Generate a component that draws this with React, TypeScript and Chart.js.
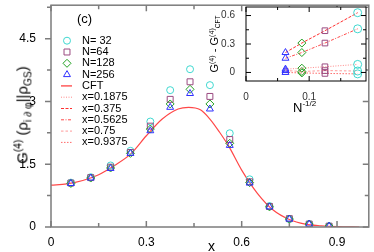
import React, { useEffect, useRef } from 'react';
import { Chart, registerables } from 'chart.js';
import { drawPoint } from 'chart.js/helpers';

Chart.register(...registerables);

const FONT = "'Liberation Sans', Arial, sans-serif";

// ---------- main plot data ----------
const xSites = [0.0625, 0.125, 0.1875, 0.25, 0.3125, 0.375, 0.4375, 0.5, 0.5625, 0.625, 0.6875, 0.75, 0.8125, 0.875];
const gN32 = [1.06, 1.19, 1.47, 1.82, 2.52, 3.27, 3.77, 3.39, 2.24, 1.14, 0.5, 0.19, 0.07, 0.02];
const gN64 = [1.05, 1.18, 1.43, 1.78, 2.41, 3.05, 3.47, 3.12, 2.09, 1.08, 0.49, 0.2, 0.07, 0.02];
const gN128 = [1.04, 1.17, 1.41, 1.76, 2.34, 2.94, 3.29, 2.94, 2.0, 1.06, 0.48, 0.19, 0.07, 0.02];
const gN256 = [1.04, 1.17, 1.4, 1.76, 2.3, 2.86, 3.19, 2.82, 1.95, 1.05, 0.48, 0.19, 0.07, 0.02];
const cftX = [0, 0.05, 0.1, 0.15, 0.2, 0.25, 0.3, 0.35, 0.4, 0.433, 0.47, 0.5, 0.53, 0.56, 0.6, 0.65, 0.7, 0.75, 0.8, 0.85, 0.9, 0.97];
const cftY = [1.0, 1.03, 1.11, 1.25, 1.47, 1.74, 2.18, 2.58, 2.82, 2.86, 2.8, 2.58, 2.27, 1.92, 1.36, 0.8, 0.4, 0.18, 0.07, 0.03, 0.01, 0.0];

const xTicks = [0, 0.3, 0.6, 0.9];
const xMinor = [0.15, 0.45, 0.75];
const yTicks = [0, 1.5, 3, 4.5];
const yMinor = [0.75, 2.25, 3.75, 5.25];

// ---------- inset data ----------
const invSqrtN = [0.0625, 0.0884, 0.125, 0.1768];
const dX0375 = [0.21, 0.31, 0.44, 0.63];
const dX05625 = [0.15, 0.21, 0.31, 0.46];
const dX01875 = [0.035, 0.045, 0.06, 0.085];
const dX075 = [0.02, 0.01, 0.02, 0.015];
const dX09375 = [0.0, -0.005, -0.01, -0.015];
const insetXTicks = [0, 0.1];
const insetXMinor = [0.05, 0.15];
const insetYTicks = [0, 0.3, 0.6];
const insetYMinor = [0.15, 0.45];

const cyan = '#3fd8d0';
const purple = '#9a4a80';
const green = '#22a022';
const blue = '#3030ff';

const markerLegend = [
  { label: 'N= 32', style: 'circle', color: cyan, r: 3.5 },
  { label: 'N=64', style: 'rect', color: purple, r: 4.2 },
  { label: 'N=128', style: 'rectRot', color: green, r: 4 },
  { label: 'N=256', style: 'triangle', color: blue, r: 4 },
];
const lineLegend = [
  { label: 'CFT', color: '#ff5050', dash: [] as number[], w: 1.4 },
  { label: 'x=0.1875', color: '#ff8a8a', dash: [1, 1.5], w: 1 },
  { label: 'x=0.375', color: '#ff3030', dash: [3, 1.5], w: 1 },
  { label: 'x=0.5625', color: '#ff4a4a', dash: [3, 1.5, 1, 1.5], w: 1 },
  { label: 'x=0.75', color: '#ff9a9a', dash: [2.5, 2], w: 1 },
  { label: 'x=0.9375', color: '#ff6a6a', dash: [1.5, 1.5], w: 1 },
];

const pts = (xs: number[], ys: number[]) => xs.map((x, i) => ({ x, y: ys[i] }));

const zeroPad = (s: any) => {
  s.paddingTop = 0; s.paddingBottom = 0; s.paddingLeft = 0; s.paddingRight = 0;
};

const mainFrame = {
  id: 'mainFrame',
  afterDatasetsDraw(chart: any) {
    const { ctx, chartArea: a, scales } = chart;
    const sx = scales.x, sy = scales.y;
    ctx.save();
    ctx.strokeStyle = '#7c7c7c';
    ctx.lineWidth = 1.5;
    ctx.setLineDash([]);
    ctx.strokeRect(a.left, a.top, a.right - a.left, a.bottom - a.top);
    ctx.beginPath();
    const xt = (vals: number[], len: number) => vals.forEach((v) => {
      const p = sx.getPixelForValue(v);
      ctx.moveTo(p, a.bottom); ctx.lineTo(p, a.bottom - len);
      ctx.moveTo(p, a.top); ctx.lineTo(p, a.top + len);
    });
    const yt = (vals: number[], len: number) => vals.forEach((v) => {
      const p = sy.getPixelForValue(v);
      ctx.moveTo(a.left - len, p); ctx.lineTo(a.left, p);
      ctx.moveTo(a.right, p); ctx.lineTo(a.right - len, p);
    });
    xt(xTicks, 6); xt(xMinor, 4); yt(yTicks, 6); yt(yMinor, 4);
    ctx.stroke();

    // legend
    const rowY = (i: number) => 40.7 + 11.3 * i;
    ctx.fillStyle = '#000';
    ctx.font = `13px ${FONT}`;
    ctx.textBaseline = 'middle';
    ctx.textAlign = 'left';
    ctx.fillText('(c)', 77, 19);
    ctx.font = `11px ${FONT}`;
    markerLegend.forEach((m, i) => {
      ctx.save();
      ctx.strokeStyle = m.color;
      ctx.fillStyle = 'rgba(0,0,0,0)';
      ctx.lineWidth = 1;
      drawPoint(ctx, { pointStyle: m.style, radius: m.r, borderWidth: 1, rotation: 0 } as any, 67, rowY(i));
      ctx.restore();
      ctx.fillText(m.label, 82, rowY(i));
    });
    lineLegend.forEach((l, j) => {
      const y = rowY(j + 4);
      ctx.save();
      ctx.strokeStyle = l.color;
      ctx.lineWidth = l.w;
      ctx.setLineDash(l.dash);
      ctx.beginPath();
      ctx.moveTo(61, y); ctx.lineTo(72, y);
      ctx.stroke();
      ctx.restore();
      ctx.fillStyle = '#000';
      ctx.fillText(l.label, 82, y);
    });
    ctx.restore();
  },
};

const insetFrame = {
  id: 'insetFrame',
  beforeDraw(chart: any) {
    const { ctx, chartArea: a } = chart;
    ctx.save();
    ctx.fillStyle = '#fff';
    ctx.fillRect(a.left, a.top, a.right - a.left, a.bottom - a.top);
    ctx.restore();
  },
  afterDraw(chart: any) {
    const { ctx, chartArea: a, scales } = chart;
    const sx = scales.x, sy = scales.y;
    ctx.save();
    ctx.strokeStyle = '#000';
    ctx.lineWidth = 1;
    ctx.setLineDash([]);
    ctx.strokeRect(a.left, a.top, a.right - a.left, a.bottom - a.top);
    ctx.beginPath();
    const xt = (vals: number[], len: number) => vals.forEach((v) => {
      const p = sx.getPixelForValue(v);
      ctx.moveTo(p, a.bottom); ctx.lineTo(p, a.bottom - len);
      ctx.moveTo(p, a.top); ctx.lineTo(p, a.top + len);
    });
    const yt = (vals: number[], len: number) => vals.forEach((v) => {
      const p = sy.getPixelForValue(v);
      ctx.moveTo(a.left, p); ctx.lineTo(a.left + len, p);
      ctx.moveTo(a.right, p); ctx.lineTo(a.right - len, p);
    });
    xt(insetXTicks, 5); xt(insetXMinor, 3); yt(insetYTicks, 5); yt(insetYMinor, 3);
    ctx.stroke();
    ctx.restore();
  },
};

const insetPointStyles = ['triangle', 'rectRot', 'rect', 'circle'];
const insetPointColors = [blue, green, purple, cyan];
const insetLine = (ys: number[], color: string, dash: number[]) => ({
  data: pts(invSqrtN, ys),
  showLine: true,
  borderColor: color,
  borderWidth: 1,
  borderDash: dash,
  pointStyle: insetPointStyles,
  pointBorderColor: insetPointColors,
  pointBackgroundColor: 'rgba(0,0,0,0)',
  pointBorderWidth: 1,
  pointRadius: 4,
});

export default function App() {
  const mainRef = useRef<HTMLCanvasElement>(null);
  const insetRef = useRef<HTMLCanvasElement>(null);

  useEffect(() => {
    const tickFont = { family: FONT, size: 12 };
    const main = new Chart(mainRef.current!, {
      type: 'scatter',
      data: {
        datasets: [
          { data: pts(xSites, gN256), pointStyle: 'triangle', pointRadius: 4, borderColor: blue, backgroundColor: 'rgba(0,0,0,0)', borderWidth: 1 },
          { data: pts(xSites, gN128), pointStyle: 'rectRot', pointRadius: 4, borderColor: green, backgroundColor: 'rgba(0,0,0,0)', borderWidth: 1 },
          { data: pts(xSites, gN64), pointStyle: 'rect', pointRadius: 4.2, borderColor: purple, backgroundColor: 'rgba(0,0,0,0)', borderWidth: 1 },
          { data: pts(xSites, gN32), pointStyle: 'circle', pointRadius: 3.5, borderColor: cyan, backgroundColor: 'rgba(0,0,0,0)', borderWidth: 1 },
          { data: pts(cftX, cftY), showLine: true, pointRadius: 0, borderColor: '#ff4848', borderWidth: 1.2, cubicInterpolationMode: 'monotone' } as any,
        ],
      },
      options: {
        responsive: false,
        animation: false,
        devicePixelRatio: 1,
        layout: { padding: { top: 1, right: 1, left: 0, bottom: 0 } },
        plugins: { legend: { display: false }, tooltip: { enabled: false } },
        scales: {
          x: {
            type: 'linear', min: 0, max: 1.0,
            grid: { display: false }, border: { display: false },
            afterBuildTicks: (s: any) => { s.ticks = xTicks.map((v) => ({ value: v })); },
            afterFit: (s: any) => { s.height = 25; zeroPad(s); },
            ticks: { font: tickFont, color: '#000', padding: 0, maxRotation: 0, autoSkip: false, callback: (v: any) => String(v) },
          },
          y: {
            type: 'linear', min: 0, max: 5.3,
            grid: { display: false }, border: { display: false },
            afterBuildTicks: (s: any) => { s.ticks = yTicks.map((v) => ({ value: v })); },
            afterFit: (s: any) => { s.width = 51; zeroPad(s); },
            ticks: { font: tickFont, color: '#000', padding: 7, autoSkip: false, callback: (v: any) => String(v) },
          },
        },
      },
      plugins: [mainFrame],
    } as any);

    const inFont = { family: FONT, size: 10 };
    const inset = new Chart(insetRef.current!, {
      type: 'scatter',
      data: {
        datasets: [
          insetLine(dX0375, '#ff3030', [3, 1.5]),
          insetLine(dX05625, '#ff4a4a', [3, 1.5, 1, 1.5]),
          insetLine(dX01875, '#ff8a8a', [1, 1.5]),
          insetLine(dX075, '#ff9a9a', [2.5, 2]),
          insetLine(dX09375, '#ff6a6a', [1.5, 1.5]),
        ],
      },
      options: {
        responsive: false,
        animation: false,
        devicePixelRatio: 1,
        layout: { padding: { top: 7, right: 8, left: 0, bottom: 0 } },
        plugins: { legend: { display: false }, tooltip: { enabled: false } },
        scales: {
          x: {
            type: 'linear', min: 0, max: 0.19,
            grid: { display: false }, border: { display: false },
            afterBuildTicks: (s: any) => { s.ticks = insetXTicks.map((v) => ({ value: v })); },
            afterFit: (s: any) => { s.height = 34; zeroPad(s); },
            ticks: { font: inFont, color: '#333', padding: 2, maxRotation: 0, autoSkip: false, callback: (v: any) => String(v) },
          },
          y: {
            type: 'linear', min: -0.09, max: 0.69,
            grid: { display: false }, border: { display: false },
            afterBuildTicks: (s: any) => { s.ticks = insetYTicks.map((v) => ({ value: v })); },
            afterFit: (s: any) => { s.width = 46; zeroPad(s); },
            ticks: { font: inFont, color: '#333', padding: 3, autoSkip: false, callback: (v: any) => String(v) },
          },
        },
      },
      plugins: [insetFrame],
    } as any);

    return () => { main.destroy(); inset.destroy(); };
  }, []);

  const sup = (t: string, size = '0.68em', top = '-0.55em') => (
    <span style={{ fontSize: size, position: 'relative', top }}>{t}</span>
  );
  const sub = (t: string, size = '0.68em', top = '0.35em') => (
    <span style={{ fontSize: size, position: 'relative', top }}>{t}</span>
  );

  return (
    <div style={{ position: 'absolute', left: 0, top: 0, width: 374, height: 252, background: '#fff', fontFamily: FONT, color: '#000' }}>
      <canvas ref={mainRef} width={374} height={252} style={{ position: 'absolute', left: 0, top: 0, width: 374, height: 252, display: 'block' }} />
      <canvas ref={insetRef} width={174} height={115} style={{ position: 'absolute', left: 200, top: 0, width: 174, height: 115, display: 'block' }} />
      <div style={{ position: 'absolute', left: 22, top: 115, transform: 'translate(-50%,-50%) rotate(-90deg)', whiteSpace: 'nowrap', fontSize: 15, lineHeight: 1 }}>
        G{sup('(4)')} ({'\u03C1'}{sub('i \u2202 \u03C6')}||{'\u03C1'}{sub('GS')})
      </div>
      <div style={{ position: 'absolute', left: 215.2, top: 44, transform: 'translate(-50%,-50%) rotate(-90deg)', whiteSpace: 'nowrap', fontSize: 11, lineHeight: 1 }}>
        G{sup('(4)', '0.65em', '-0.6em')} - G{sup('(4)', '0.65em', '-0.6em')}{sub('CFT', '0.6em', '0.3em')}
      </div>
      <div style={{ position: 'absolute', left: 293, top: 101, whiteSpace: 'nowrap', fontSize: 13, lineHeight: 1 }}>
        N{sup('-1/2', '0.62em', '-0.8em')}
      </div>
      <div style={{ position: 'absolute', left: 208, top: 238.9, whiteSpace: 'nowrap', fontSize: 14, lineHeight: 1 }}>x</div>
    </div>
  );
}
